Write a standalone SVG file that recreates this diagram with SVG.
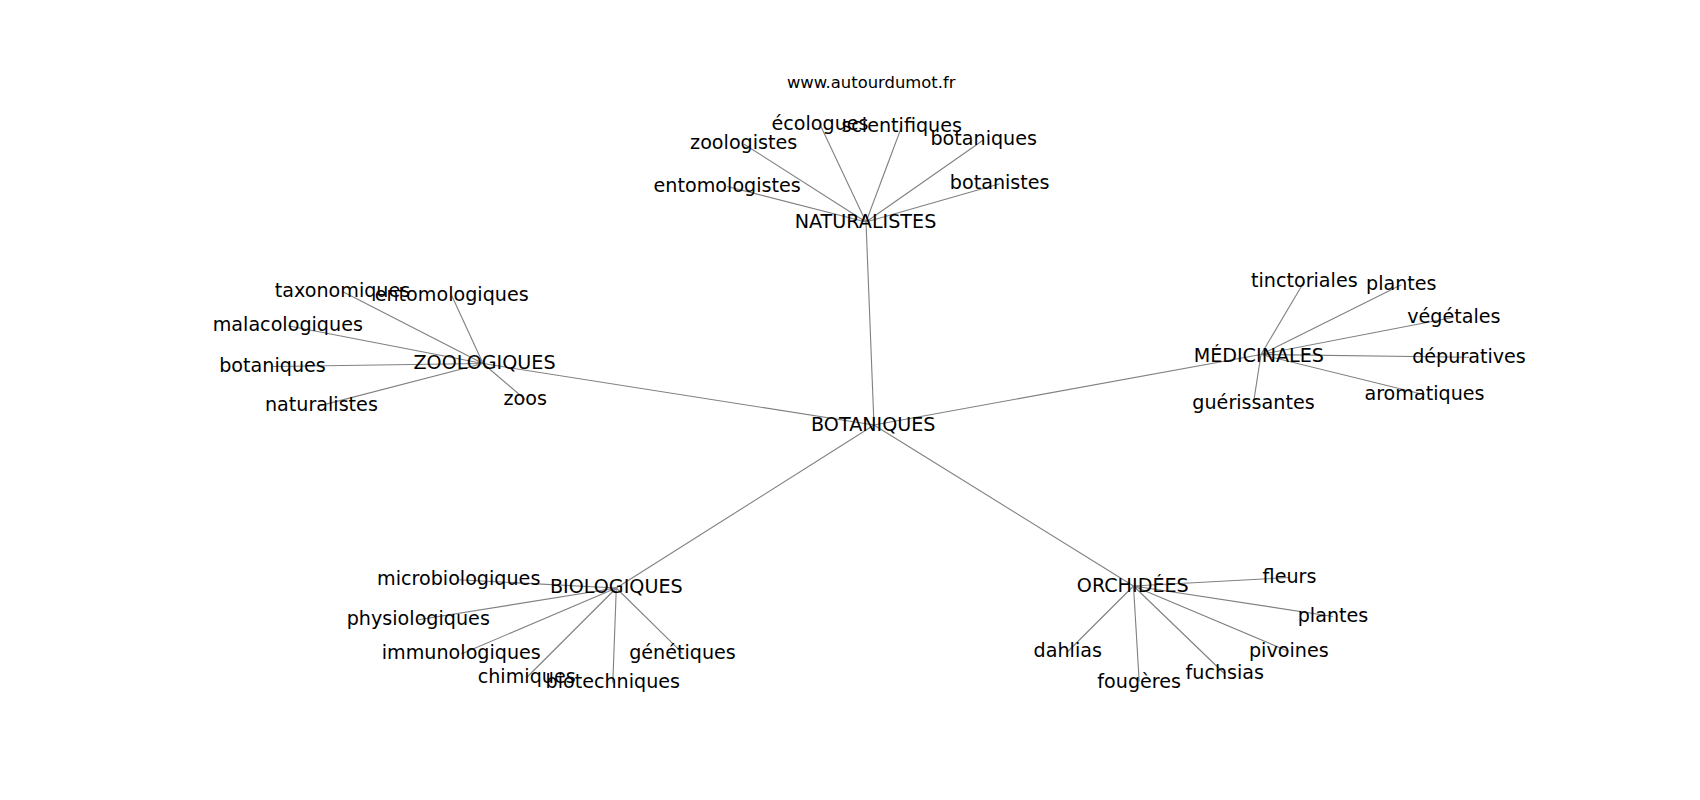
<svg xmlns="http://www.w3.org/2000/svg" width="1700" height="800" viewBox="0 0 1700 800">
<style>
.e line{stroke:#808080;stroke-width:1.1;fill:none}
text{font-family:"DejaVu Sans","Liberation Sans",sans-serif;font-size:19.15px;fill:#000;text-anchor:middle}
.title{font-size:16.4px}
</style>
<rect width="1700" height="800" fill="#fff"/>
<g id="edges" class="e">
<line x1="874" y1="425" x2="866" y2="222"/>
<line x1="874" y1="425" x2="483" y2="363.5"/>
<line x1="874" y1="425" x2="1261" y2="354.5"/>
<line x1="874" y1="425" x2="616.3" y2="588"/>
<line x1="874" y1="425" x2="1133.5" y2="586"/>
<line x1="866" y1="222" x2="820" y2="124.5"/>
<line x1="866" y1="222" x2="901.7" y2="126.5"/>
<line x1="866" y1="222" x2="743.7" y2="144"/>
<line x1="866" y1="222" x2="983.7" y2="139.8"/>
<line x1="866" y1="222" x2="727.2" y2="186.5"/>
<line x1="866" y1="222" x2="999.7" y2="183.8"/>
<line x1="483" y1="363.5" x2="342.5" y2="291.5"/>
<line x1="483" y1="363.5" x2="451.7" y2="295.5"/>
<line x1="483" y1="363.5" x2="287.8" y2="325.8"/>
<line x1="483" y1="363.5" x2="272.5" y2="366.5"/>
<line x1="483" y1="363.5" x2="321.4" y2="405.4"/>
<line x1="483" y1="363.5" x2="525.2" y2="399.5"/>
<line x1="1261" y1="354.5" x2="1304.3" y2="281.5"/>
<line x1="1261" y1="354.5" x2="1401.3" y2="284.8"/>
<line x1="1261" y1="354.5" x2="1453.8" y2="317.2"/>
<line x1="1261" y1="354.5" x2="1469" y2="357.2"/>
<line x1="1261" y1="354.5" x2="1424.5" y2="394.8"/>
<line x1="1261" y1="354.5" x2="1253.5" y2="402.9"/>
<line x1="616.3" y1="588" x2="458.7" y2="579.8"/>
<line x1="616.3" y1="588" x2="418.3" y2="619.8"/>
<line x1="616.3" y1="588" x2="461.3" y2="654"/>
<line x1="616.3" y1="588" x2="682.5" y2="653.2"/>
<line x1="616.3" y1="588" x2="526.7" y2="677.5"/>
<line x1="616.3" y1="588" x2="612.8" y2="683"/>
<line x1="1133.5" y1="586" x2="1289.5" y2="577.5"/>
<line x1="1133.5" y1="586" x2="1333" y2="616.5"/>
<line x1="1133.5" y1="586" x2="1288.8" y2="651.5"/>
<line x1="1133.5" y1="586" x2="1067.8" y2="651.5"/>
<line x1="1133.5" y1="586" x2="1224.8" y2="674"/>
<line x1="1133.5" y1="586" x2="1139.2" y2="681.6"/>
</g>
<text class="title" x="871.2" y="88.3">www.autourdumot.fr</text>
<g id="n-botaniques-center"><text x="873.3" y="430.5">BOTANIQUES</text></g>
<g id="n-naturalistes-hub"><text x="865.5" y="228.3">NATURALISTES</text></g>
<g id="n-ecologues"><text x="820" y="130.3">écologues</text></g>
<g id="n-scientifiques"><text x="901.7" y="131.7">scientifiques</text></g>
<g id="n-zoologistes"><text x="743.7" y="149.3">zoologistes</text></g>
<g id="n-botaniques-top"><text x="983.7" y="145">botaniques</text></g>
<g id="n-entomologistes"><text x="727.2" y="191.7">entomologistes</text></g>
<g id="n-botanistes"><text x="999.7" y="189">botanistes</text></g>
<g id="n-zoologiques-hub"><text x="484.5" y="369.3">ZOOLOGIQUES</text></g>
<g id="n-taxonomiques"><text x="342.5" y="296.7">taxonomiques</text></g>
<g id="n-entomologiques"><text x="451.7" y="300.7">entomologiques</text></g>
<g id="n-malacologiques"><text x="287.8" y="331">malacologiques</text></g>
<g id="n-botaniques-left"><text x="272.5" y="371.7">botaniques</text></g>
<g id="n-naturalistes"><text x="321.4" y="410.6">naturalistes</text></g>
<g id="n-zoos"><text x="525.2" y="404.7">zoos</text></g>
<g id="n-medicinales-hub"><text x="1258.8" y="362">MÉDICINALES</text></g>
<g id="n-tinctoriales"><text x="1304.3" y="286.7">tinctoriales</text></g>
<g id="n-plantes-top"><text x="1401.3" y="290">plantes</text></g>
<g id="n-vegetales"><text x="1453.8" y="323.3">végétales</text></g>
<g id="n-depuratives"><text x="1469" y="363.3">dépuratives</text></g>
<g id="n-aromatiques"><text x="1424.5" y="400">aromatiques</text></g>
<g id="n-guerissantes"><text x="1253.5" y="409">guérissantes</text></g>
<g id="n-biologiques-hub"><text x="616.3" y="593.3">BIOLOGIQUES</text></g>
<g id="n-microbiologiques"><text x="458.7" y="585">microbiologiques</text></g>
<g id="n-physiologiques"><text x="418.3" y="625">physiologiques</text></g>
<g id="n-immunologiques"><text x="461.3" y="659.3">immunologiques</text></g>
<g id="n-genetiques"><text x="682.5" y="659.3">génétiques</text></g>
<g id="n-chimiques"><text x="526.7" y="682.7">chimiques</text></g>
<g id="n-biotechniques"><text x="612.8" y="688.3">biotechniques</text></g>
<g id="n-orchidees-hub"><text x="1132.8" y="591.5">ORCHIDÉES</text></g>
<g id="n-fleurs"><text x="1289.5" y="582.7">fleurs</text></g>
<g id="n-plantes-bottom"><text x="1333" y="621.7">plantes</text></g>
<g id="n-pivoines"><text x="1288.8" y="656.7">pivoines</text></g>
<g id="n-dahlias"><text x="1067.8" y="656.7">dahlias</text></g>
<g id="n-fuchsias"><text x="1224.8" y="679.3">fuchsias</text></g>
<g id="n-fougeres"><text x="1139.2" y="687.7">fougères</text></g>
</svg>
